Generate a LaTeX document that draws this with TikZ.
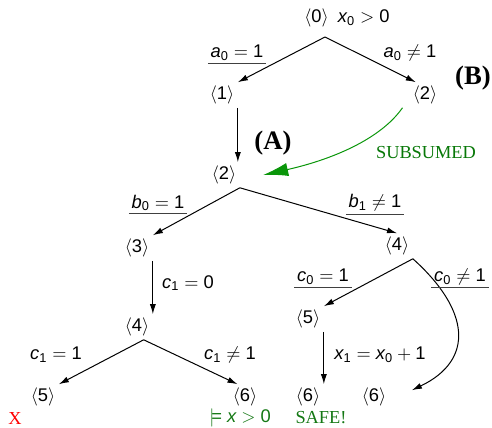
\documentclass[tikz,border=0pt]{standalone}
\usepackage{amsmath}
\usepackage{fontspec}
\setmainfont{Liberation Sans}
\newfontfamily\tms{Liberation Serif}
\newcommand\mv[1]{\mathit{#1}}
\newcommand\dg[1]{\text{#1}}
\definecolor{safegreen}{RGB}{20,120,20}
\definecolor{subgreen}{RGB}{10,150,10}
\usetikzlibrary{arrows.meta}
\tikzset{
  loc/.style={inner sep=2pt},
  tran/.style={-{Latex[length=6pt,width=3.6pt]}, semithick},
  guard/.style={inner sep=1.5pt},
  uguard/.style={guard, append after command={(\tikzlastnode.south west) edge[semithick, black!75] (\tikzlastnode.south east)}},
  note/.style={font=\tms\fontsize{11}{13}\selectfont},
  tag/.style={font=\tms\bfseries\fontsize{16}{18}\selectfont}
}

\begin{document}
\begin{tikzpicture}[x=0.6pt, y=-0.6pt, font=\fontsize{11}{13}\selectfont]
  \useasboundingbox (0,0) rectangle (492,428);
  % locations
  \node[loc] (n0) at (347,18) {$\langle\dg{0}\rangle\enspace \mv{x}_{\dg{0}} > \dg{0}$};
  \node[loc] (n1) at (222,95) {$\langle\dg{1}\rangle$};
  \node[loc] (n2b) at (425,95) {$\langle\dg{2}\rangle$};
  \node[loc] (n2) at (224,175) {$\langle\dg{2}\rangle$};
  \node[loc] (n3) at (137,248) {$\langle\dg{3}\rangle$};
  \node[loc] (n4) at (397,246) {$\langle\dg{4}\rangle$};
  \node[loc] (n4b) at (137,327) {$\langle\dg{4}\rangle$};
  \node[loc] (n5) at (308,319) {$\langle\dg{5}\rangle$};
  \node[loc] (n5b) at (43,397) {$\langle\dg{5}\rangle$};
  \node[loc] (n6a) at (245,397) {$\langle\dg{6}\rangle$};
  \node[loc] (n6b) at (308,397) {$\langle\dg{6}\rangle$};
  \node[loc] (n6c) at (374,397) {$\langle\dg{6}\rangle$};
  % branch points
  \coordinate (p0) at (325,37);
  \coordinate (p2) at (n2.south east);
  \coordinate (p4) at (n4.south east);
  \coordinate (p4b) at ([xshift=4pt]n4b.south);
  % transitions
  \draw[tran] (p0) -- (n1.north east);
  \draw[tran] (p0) -- ([xshift=4pt]n2b.north west);
  \draw[tran] (n1.south east) -- (n1.south east |- n2.north);
  \draw[tran] (p2) -- (n3.north east);
  \draw[tran] (p2) -- (n4.north);
  \draw[tran] (n3.south east) -- (n3.south east |- n4b.north);
  \draw[tran] (p4b) -- (n5b.north east);
  \draw[tran] (p4b) -- ([xshift=5pt]n6a.north west);
  \draw[tran] (p4) -- (n5.north east);
  \draw[tran] (p4) .. controls (470,310) and (475,360) .. ([shift={(22,6)}]n6c.north east);
  \draw[tran] (n5.south east) -- (n5.south east |- n6b.north);
  % guards
  \node[uguard] (ga0) at (237,53) {$\mv{a}_{\dg{0}} = \dg{1}$};
  \node[guard] (ga0n) at (410,53) {$\mv{a}_{\dg{0}} \neq \dg{1}$};
  \node[uguard] (gb0) at (158,203) {$\mv{b}_{\dg{0}} = \dg{1}$};
  \node[uguard] (gb1n) at (375,203) {$\mv{b}_{\dg{1}} \neq \dg{1}$};
  \node[guard] (gc1z) at (188,283) {$\mv{c}_{\dg{1}} = \dg{0}$};
  \node[guard] (gc1) at (56,355) {$\mv{c}_{\dg{1}} = \dg{1}$};
  \node[guard] (gc1n) at (230,355) {$\mv{c}_{\dg{1}} \neq \dg{1}$};
  \node[uguard] (gc0) at (323,277) {$\mv{c}_{\dg{0}} = \dg{1}$};
  \node[uguard] (gc0n) at (460,277) {$\mv{c}_{\dg{0}} \neq \dg{1}$};
  \node[guard] (gx1) at (380,355) {$\mv{x}_{\dg{1}} = \mv{x}_{\dg{0}} + \dg{1}$};
  % covering
  \draw[subgreen, semithick, -{Latex[length=15pt,width=8pt]}] ([xshift=-4pt]n2b.south west) .. controls (380,140) and (330,160) .. ([xshift=14pt]n2.east);
  \node[note, text=subgreen!80!black] (sub) at (426,153) {SUBSUMED};
  \node[tag] (tA) at (273,143) {(A)};
  \node[tag] (tB) at (473,78) {(B)};
  % outcomes
  \node[note, text=red] (err) at (15,418) {X};
  \node[text=safegreen] (inv) at (240,418) {$\models \mv{x} > \dg{0}$};
  \node[note, text=safegreen] (safe) at (321,418) {SAFE!};
\end{tikzpicture}
\end{document}
